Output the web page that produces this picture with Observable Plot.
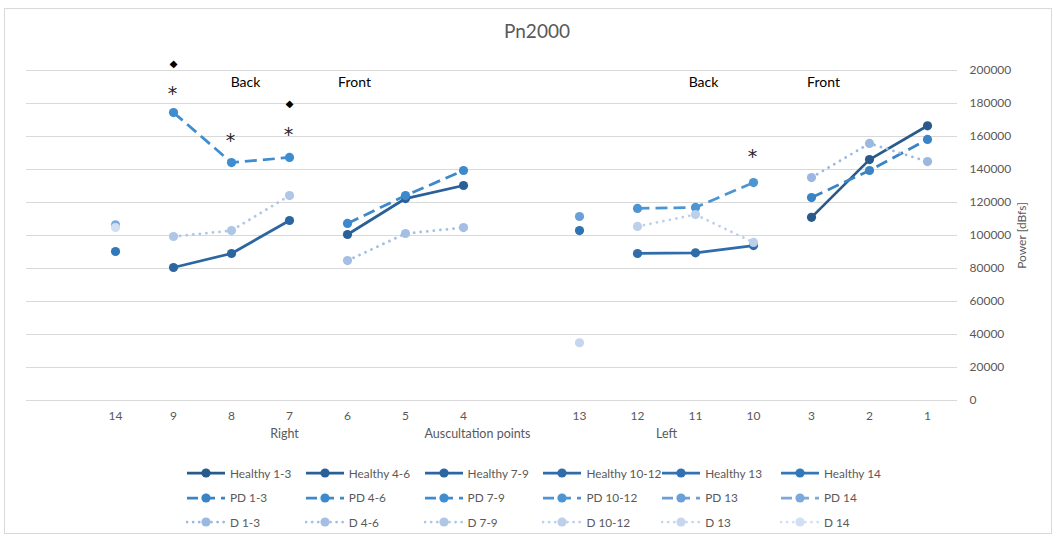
<!DOCTYPE html>
<html><head><meta charset="utf-8">
<script src="https://cdn.jsdelivr.net/npm/d3@7"></script>
<script src="https://cdn.jsdelivr.net/npm/@observablehq/plot@0.6"></script>
<style>
body{margin:0;background:#fff;font-family:Lato,"Open Sans",sans-serif;}
#wrap{position:relative;width:1056px;height:536px;overflow:hidden;background:#fff;}
#frame{position:absolute;left:4px;top:8px;width:1048px;height:526px;border:1px solid #d9d9d9;box-sizing:border-box;}
#title{position:absolute;left:0;width:1074px;top:19px;text-align:center;font-size:19px;color:#595959;line-height:24px;}
#chart{position:absolute;left:0;top:50px;}
#legend{position:absolute;left:186px;top:461px;display:grid;grid-template-columns:repeat(6,118.8px);grid-auto-rows:24.5px;font-size:11.8px;color:#595959;}
.item{display:flex;align-items:center;white-space:nowrap;}
.item svg{margin-right:4px;flex:none;}
</style></head><body>
<div id="wrap"><div id="frame"></div><div id="title">Pn2000</div><div id="chart"></div><div id="legend"></div></div>
<script>
// Category axis (two blank slots, as in the source chart)
const categories = ["_a","14","9","8","7","6","5","4","_b","13","12","11","10","3","2","1"];
const groups = ["Healthy","PD","D"];
const segments = ["1-3","4-6","7-9","10-12","13","14"];
const segmentPoints = [["3","2","1"],["6","5","4"],["9","8","7"],["12","11","10"],["13"],["14"]];
const healthyValues = [[111000,146000,166500],[100600,122400,130300],[80600,89100,109100],[89100,89500,93900],[103000],[90300]];
const pdValues      = [[123000,139400,158200],[107300,124200,139400],[174500,144200,147300],[116400,117000,132100],[111500],[106500]];
const dValues       = [[135100,155800,144800],[84800,101200,104800],[99400,103000,124200],[105500,112700,95800],[35000],[104800]];
const yTicks = [0,20000,40000,60000,80000,100000,120000,140000,160000,180000,200000];
const asterisks = [{x:"9",v:188000},{x:"8",v:160000},{x:"7",v:163500},{x:"10",v:150300}];
const diamonds  = [{x:"9",v:204200},{x:"7",v:180000}];
const topLabels = [{label:"Back",x:"8",v:192700},{label:"Front",x:"6",v:192700},{label:"Back",x:"11",v:192700},{label:"Front",x:"3",v:192700}];
const bottomLabels = [{label:"Right",x:"7"},{label:"Auscultation points",x:"4"},{label:"Left",x:"12"}];

const allValues = [healthyValues, pdValues, dValues];
const colors = [
  ["#285a8c","#2a609a","#2c66a2","#2e6caa","#3072b2","#3278b9"],
  ["#3a84c5","#3c89cb","#3e8dd0","#4d94d3","#6a9fd7","#7ba9dc"],
  ["#9ab8e0","#a4bfe3","#afc6e7","#bccfeb","#c6d6ef","#d2dff3"]
];
const dashes = [null, "12,6", "0.1,6.5"];

const series = [];
groups.forEach((g, gi) => segments.forEach((s, si) => {
  series.push({
    name: g + " " + s, gi, si, color: colors[gi][si],
    rows: segmentPoints[si].map((p, pi) => ({x: p, v: allValues[gi][si][pi]}))
  });
}));

const marks = [
  Plot.gridY(yTicks, {stroke: "#d9d9d9", strokeOpacity: 1, strokeWidth: 1.2}),
  Plot.axisY({anchor: "right", ticks: yTicks, tickSize: 0, tickPadding: 12, tickFormat: d => String(d), label: null, fill: "#595959", fontSize: 12}),
  Plot.axisX({ticks: categories, tickSize: 0, tickPadding: 11, tickFormat: d => d.startsWith("_") ? "" : d, label: null, fill: "#595959", fontSize: 12})
];
series.forEach(s => {
  marks.push(Plot.line(s.rows, {x: "x", y: "v", stroke: s.color, strokeWidth: 2.75,
    strokeDasharray: dashes[s.gi] || undefined, strokeLinecap: s.gi === 2 ? "round" : "butt"}));
  marks.push(Plot.dot(s.rows, {x: "x", y: "v", r: 4.6, fill: s.color, stroke: "none"}));
});
const topDx = [14, 7, 8, 12];
topLabels.forEach((d, i) => marks.push(Plot.text([d], {x: "x", y: "v", text: "label", dx: topDx[i], fontSize: 14, fill: "#000"})));
const botDx = [-5, 14, 29];
bottomLabels.forEach((d, i) => marks.push(Plot.text([d], {x: "x", text: "label", frameAnchor: "bottom", dx: botDx[i], dy: 37, fontSize: 12.5, fill: "#595959"})));
marks.push(Plot.text(asterisks, {x: "x", y: "v", text: () => "*", fontSize: 19, dy: 4, dx: -1, fill: "#262626", fontFamily: "DejaVu Sans"}));
marks.push(Plot.text(diamonds, {x: "x", y: "v", text: () => "◆", fontSize: 10, fill: "#000", fontFamily: "DejaVu Sans"}));
marks.push(Plot.text([100000], {y: d => d, frameAnchor: "right", textAnchor: "middle", dx: 65, rotate: -90, text: () => "Power [dBfs]", fontSize: 12, fill: "#595959"}));

const chart = Plot.plot({
  width: 1056, height: 400,
  marginTop: 20, marginBottom: 50, marginLeft: 26, marginRight: 99,
  style: {fontFamily: "Lato, 'Open Sans', sans-serif", fontSize: "12px", background: "transparent"},
  x: {type: "point", domain: categories, padding: 0.5, axis: null},
  y: {domain: [0, 200000], axis: null},
  marks
});
document.getElementById("chart").appendChild(chart);

// Legend
const legend = document.getElementById("legend");
series.forEach(s => {
  const item = document.createElement("div");
  item.className = "item";
  const svg = d3.create("svg").attr("width", 40).attr("height", 12);
  svg.append("line").attr("x1", 1).attr("x2", 39).attr("y1", 6).attr("y2", 6)
    .attr("stroke", s.color).attr("stroke-width", 2.75)
    .attr("stroke-dasharray", dashes[s.gi] ? (s.gi === 1 ? "11,6" : "0.1,6") : null)
    .attr("stroke-linecap", s.gi === 2 ? "round" : "butt");
  svg.append("circle").attr("cx", 20).attr("cy", 6).attr("r", 4.6).attr("fill", s.color);
  item.appendChild(svg.node());
  const span = document.createElement("span");
  span.textContent = s.name;
  item.appendChild(span);
  legend.appendChild(item);
});
</script>
</body></html>
